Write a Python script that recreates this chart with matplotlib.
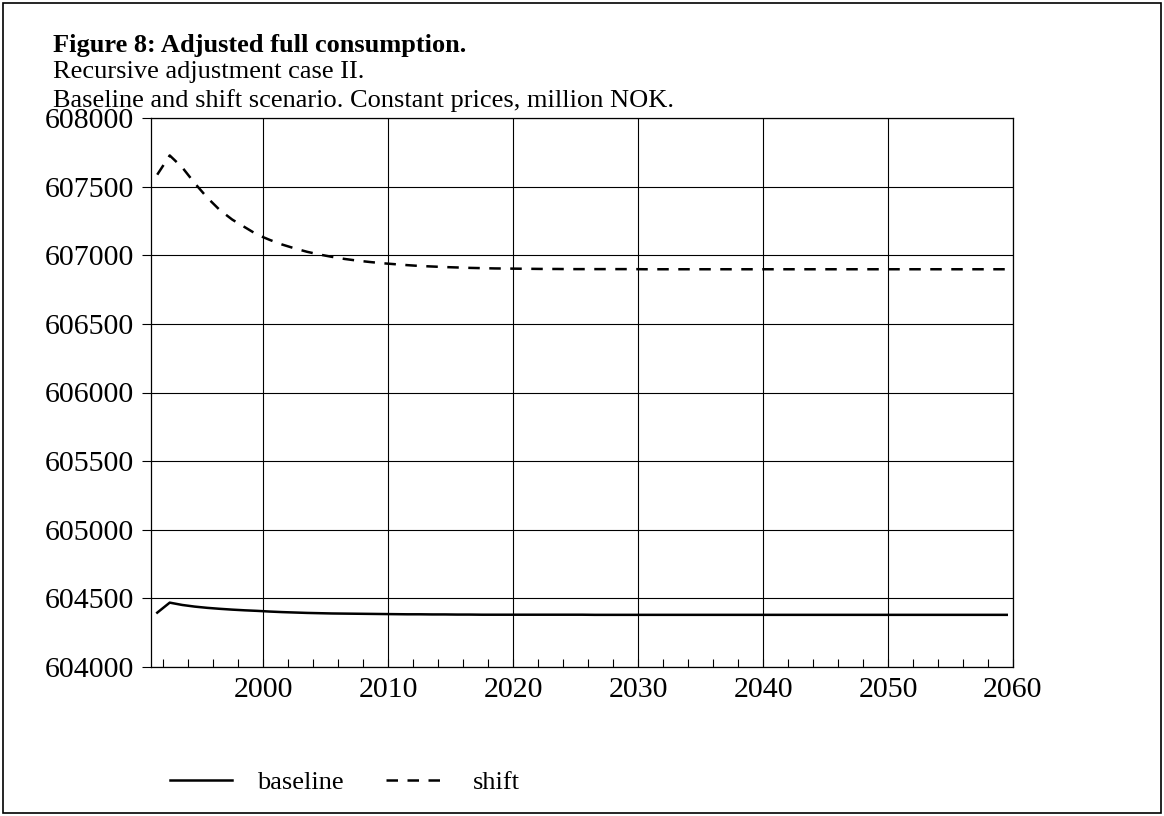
import matplotlib.pyplot as plt
from matplotlib.patches import Rectangle
from matplotlib.ticker import MultipleLocator

plt.rcParams['font.family'] = ['Liberation Serif', 'DejaVu Serif']

# Annual values 1991-2059, constant prices, million NOK
years = list(range(1991, 2060))

baseline = [
    604396, 604469, 604452, 604440, 604431, 604424, 604418, 604413, 604409, 604404,
    604400, 604397, 604394, 604392, 604390, 604389, 604388, 604387, 604386, 604385,
    604384, 604384, 604383, 604383, 604382, 604382, 604381, 604381, 604381, 604381,
    604381, 604381, 604381, 604381, 604381, 604380, 604380, 604380, 604380, 604380,
    604380, 604380, 604380, 604380, 604380, 604380, 604380, 604380, 604380, 604380,
    604380, 604380, 604380, 604380, 604380, 604380, 604380, 604380, 604380, 604380,
    604380, 604380, 604380, 604380, 604380, 604380, 604380, 604380, 604380,
]

shift = [
    607587, 607727, 607640, 607525, 607420, 607330, 607260, 607205, 607150, 607112,
    607078, 607050, 607025, 607005, 606988, 606973, 606961, 606951, 606942, 606935,
    606928, 606922, 606918, 606914, 606911, 606908, 606906, 606904, 606903, 606902,
    606901, 606900, 606900, 606899, 606899, 606899, 606899, 606899, 606899, 606898,
    606898, 606898, 606898, 606898, 606898, 606898, 606898, 606898, 606898, 606898,
    606898, 606898, 606898, 606898, 606898, 606898, 606898, 606898, 606898, 606898,
    606898, 606898, 606898, 606898, 606898, 606898, 606898, 606898, 606898,
]

series_names = ["baseline", "shift"]

fig = plt.figure(figsize=(11.64, 8.16), dpi=100)
ax = fig.add_axes([151 / 1164, 1 - 667 / 816, 862 / 1164, 549 / 816])

# values plotted at mid-year
mid = [y + 0.5 for y in years]
ax.plot(mid, baseline, color='black', lw=1.8, label=series_names[0])
ax.plot(mid, shift, color='black', lw=1.8, linestyle=(0, (4.6, 3.8)),
        label=series_names[1])

ax.set_xlim(1991, 2060)
ax.set_ylim(604000, 608000)
ax.xaxis.set_major_locator(MultipleLocator(10))
ax.xaxis.set_minor_locator(MultipleLocator(2))
ax.yaxis.set_major_locator(MultipleLocator(500))
ax.ticklabel_format(axis='y', useOffset=False, style='plain')

ax.grid(True, which='major', color='black', lw=0.8)
ax.set_axisbelow(True)
for sp in ax.spines.values():
    sp.set_linewidth(0.9)

ax.tick_params(axis='x', which='both', direction='in', length=6, width=0.8,
               labelsize=21.5, pad=7)
ax.tick_params(axis='y', which='both', direction='out', length=6.5, width=0.8,
               labelsize=21.5, pad=5.5)

# header text
fig.text(53 / 1164, 1 - 52 / 816, "Figure 8: Adjusted full consumption.",
         fontsize=19, fontweight='bold', va='baseline', ha='left')
fig.text(53 / 1164, 1 - 78 / 816, "Recursive adjustment case II.",
         fontsize=19, va='baseline', ha='left')
fig.text(53 / 1164, 1 - 107 / 816,
         "Baseline and shift scenario. Constant prices, million NOK.",
         fontsize=19, va='baseline', ha='left')

fig.legend(loc='center left', bbox_to_anchor=(170 / 1164, 1 - 782 / 816),
           ncol=2, frameon=False, fontsize=19, handlelength=2.35,
           handletextpad=0.95, columnspacing=1.6, borderpad=0, borderaxespad=0)

# outer frame
fig.patches.append(Rectangle((3 / 1164, 3 / 816), 1158 / 1164, 810 / 816,
                             transform=fig.transFigure, fill=False,
                             edgecolor='black', lw=1.2))

fig.savefig('out.png', dpi=100)
